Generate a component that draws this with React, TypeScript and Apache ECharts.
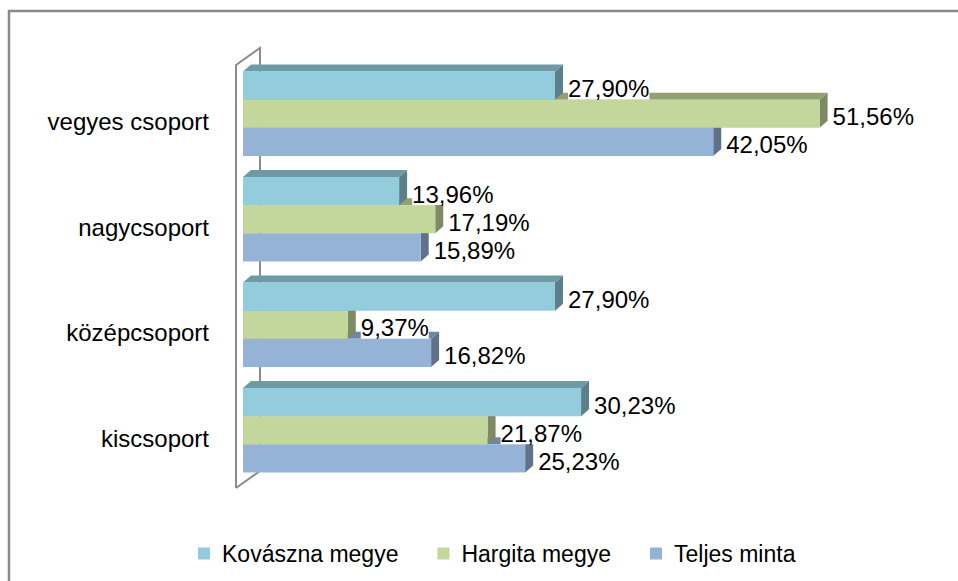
import React, { useEffect, useRef } from "react";
import * as echarts from "echarts";

const categories = ["kiscsoport", "középcsoport", "nagycsoport", "vegyes csoport"];
const seriesNames = ["Kovászna megye", "Hargita megye", "Teljes minta"];
const kovaszna = [30.23, 27.9, 13.96, 27.9];
const hargita = [21.87, 9.37, 17.19, 51.56];
const teljes = [25.23, 16.82, 15.89, 42.05];

const FONT = "Liberation Sans";

type Pal = { front: string; top: string; side: string };
const palettes: Pal[] = [
  { front: "#93CDDD", top: "#6E9AA6", side: "#5C808B" },
  { front: "#C3D69B", top: "#92A074", side: "#7D8A62" },
  { front: "#95B3D7", top: "#7086A1", side: "#5F7289" },
];

const DX = 8;
const DY = 7;

function fmt(v: number) {
  return v.toFixed(2).replace(".", ",") + "%";
}

function makeRender(pos: number, pal: Pal) {
  return (params: any, api: any) => {
    const v = api.value(0);
    const c = api.value(1);
    const p0 = api.coord([0, c]);
    const p1 = api.coord([v, c]);
    const band = api.size([0, 1])[1];
    const groupH = band * 0.8;
    const barH = groupH / 3;
    const y0 = p0[1] - groupH / 2 + pos * barH;
    const y1 = y0 + barH;
    const x0 = p0[0];
    const x1 = p1[0];
    return {
      type: "group",
      children: [
        {
          type: "polygon",
          shape: { points: [[x0, y0], [x0 + DX, y0 - DY], [x1 + DX, y0 - DY], [x1, y0]] },
          style: { fill: pal.top },
        },
        {
          type: "polygon",
          shape: { points: [[x1, y0], [x1 + DX, y0 - DY], [x1 + DX, y1 - DY], [x1, y1]] },
          style: { fill: pal.side },
        },
        {
          type: "rect",
          shape: { x: x0, y: y0, width: x1 - x0, height: barH },
          style: { fill: pal.front },
        },
        {
          type: "text",
          z2: 100,
          x: x1 + 13,
          y: (y0 + y1) / 2 + 3,
          style: {
            text: fmt(v),
            fill: "#000",
            fontSize: 24,
            fontFamily: FONT,
            align: "left",
            verticalAlign: "middle",
            backgroundColor: "#fff",
            lineHeight: 22,
          },
        },
      ],
    };
  };
}

export default function App() {
  const ref = useRef<HTMLDivElement>(null);
  useEffect(() => {
    document.body.style.margin = "0";
    const chart = echarts.init(ref.current!, undefined, { renderer: "svg" });
    const values = [kovaszna, hargita, teljes];
    const order = [2, 1, 0];
    const series = order.map((i) => ({
      type: "custom",
      name: seriesNames[i],
      itemStyle: { color: palettes[i].front },
      encode: { x: 0, y: 1 },
      data: values[i].map((v, k) => [v, k]),
      renderItem: makeRender(i, palettes[i]),
      z: 2,
    }));
    chart.setOption({
      animation: false,
      backgroundColor: "#fff",
      grid: { left: 243, right: 44, top: 61, bottom: 98, containLabel: false },
      xAxis: {
        type: "value",
        min: 0,
        max: 60,
        show: false,
      },
      yAxis: {
        type: "category",
        data: categories,
        axisLine: { show: false },
        axisTick: { show: false },
        splitLine: { show: false },
        axisLabel: {
          margin: 34,
          color: "#000",
          fontSize: 24,
          fontFamily: FONT,
          verticalAlign: "top",
          lineHeight: 16,
        },
      },
      legend: {
        data: seriesNames,
        left: 193,
        top: 537,
        icon: "rect",
        itemWidth: 12,
        itemHeight: 12,
        itemGap: 39,
        textStyle: { color: "#000", fontSize: 23, fontFamily: FONT, padding: [0, 0, 0, 7] },
      },
      graphic: [
        {
          type: "rect",
          z: 0,
          shape: { x: 9, y: 11, width: 1000, height: 1000 },
          style: { fill: "none", stroke: "#8a8a8a", lineWidth: 2.5 },
        },
        {
          type: "polyline",
          z: 1,
          shape: { points: [[236, 488], [236, 65], [260, 48], [260, 471], [236, 488]] },
          style: { fill: "none", stroke: "#8c8c8c", lineWidth: 2 },
        },
      ],
      series,
    });
    return () => chart.dispose();
  }, []);
  return <div ref={ref} style={{ width: 958, height: 581 }} />;
}
